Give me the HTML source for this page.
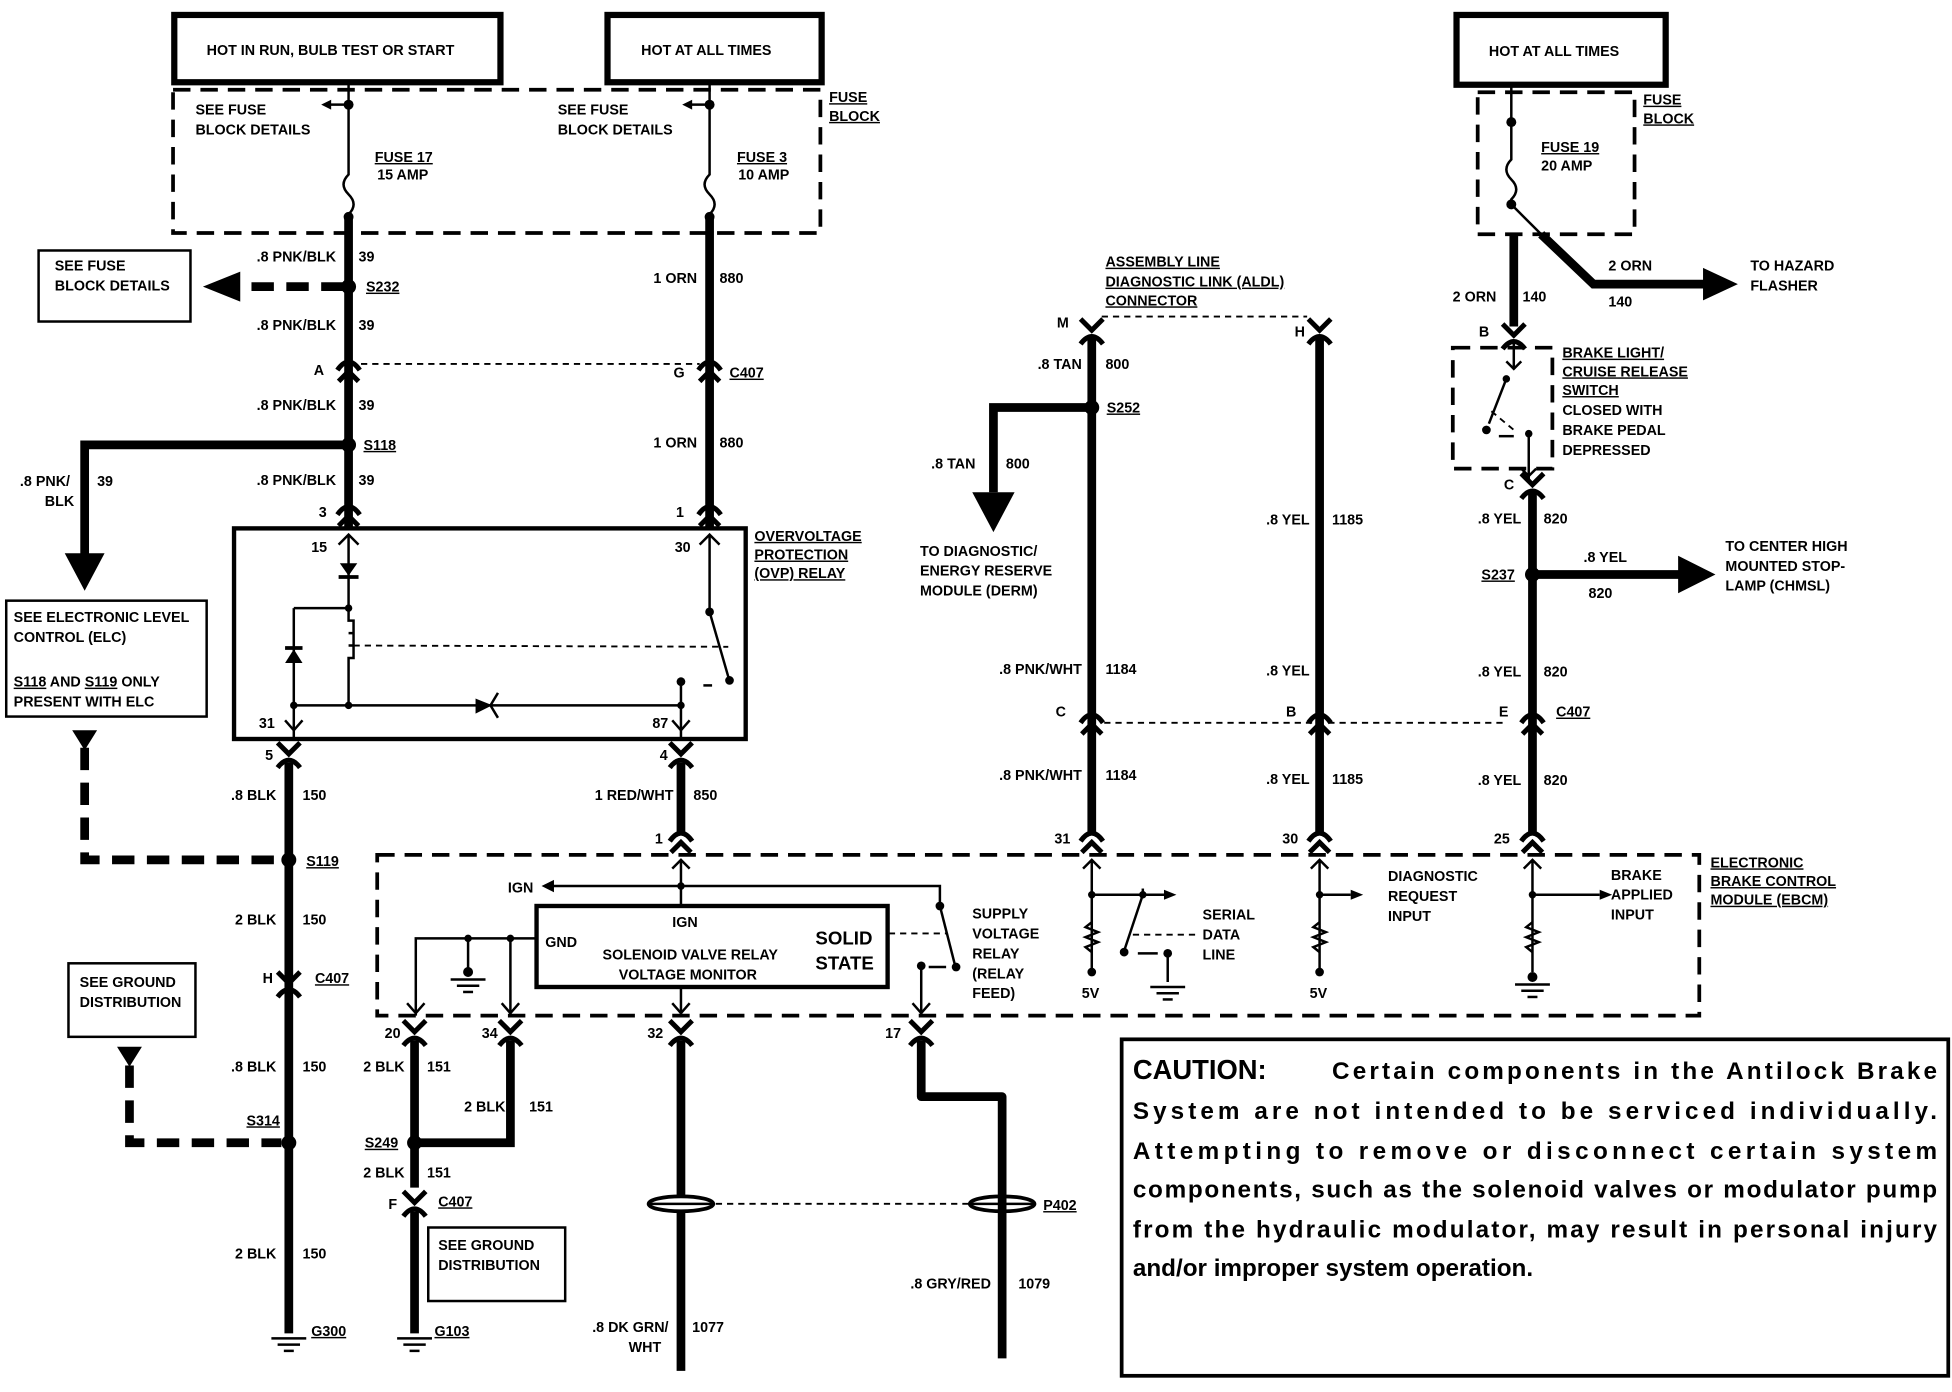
<!DOCTYPE html>
<html><head><meta charset="utf-8"><style>
html,body{margin:0;padding:0;background:#fff;}
svg{display:block}
text{font-family:"Liberation Sans",sans-serif;font-weight:bold;font-size:11.5px;fill:#000}
.u{text-decoration:underline}
.w{stroke:#000;stroke-width:7;fill:none}
.t{stroke:#000;stroke-width:2;fill:none}
.d{stroke:#000;stroke-width:1.5;fill:none;stroke-dasharray:5 4}
.db{stroke:#000;stroke-width:3;fill:none;stroke-dasharray:14 8}
.dw{stroke:#000;stroke-width:7;fill:none;stroke-dasharray:18 10}
</style></head><body>
<svg width="1952" height="1392" viewBox="0 0 1568 1117" preserveAspectRatio="none" xmlns="http://www.w3.org/2000/svg">
<defs>
<g id="cn"><path d="M-9,5 Q0,-8 9,5" stroke="#000" stroke-width="4" fill="none"/><path d="M-8,14 L0,6 L8,14" stroke="#000" stroke-width="4" fill="none"/></g>
<g id="cb"><path d="M-9,-6 L0,3 L9,-6" stroke="#000" stroke-width="4" fill="none"/><path d="M-9,14 Q0,2 9,14" stroke="#000" stroke-width="4" fill="none"/></g>
<g id="gnd"><line x1="-14" y1="0" x2="14" y2="0" stroke="#000" stroke-width="2"/><line x1="-9" y1="5" x2="9" y2="5" stroke="#000" stroke-width="2"/><line x1="-4" y1="10" x2="4" y2="10" stroke="#000" stroke-width="2"/></g>
</defs>

<!-- header boxes -->
<rect x="140" y="12" width="262" height="54" fill="#fff" stroke="#000" stroke-width="5"/>
<text x="166" y="44">HOT IN RUN, BULB TEST OR START</text>
<rect x="488" y="12" width="172" height="54" fill="#fff" stroke="#000" stroke-width="5"/>
<text x="515" y="44">HOT AT ALL TIMES</text>
<rect x="1170" y="12" width="168" height="56" fill="#fff" stroke="#000" stroke-width="5"/>
<text x="1196" y="45">HOT AT ALL TIMES</text>

<!-- fuse blocks -->
<rect x="139" y="72" width="520" height="115" class="db"/>
<text x="666" y="82" class="u">FUSE</text><text x="666" y="97" class="u">BLOCK</text>
<rect x="1187" y="74" width="126" height="114" class="db"/>
<text x="1320" y="84" class="u">FUSE</text><text x="1320" y="99" class="u">BLOCK</text>

<!-- wire 1 (x=280) -->
<line x1="280" y1="66" x2="280" y2="84" class="t"/>
<circle cx="280" cy="84" r="4"/>
<line x1="280" y1="84" x2="262" y2="84" class="t"/><path d="M258,84 l8,-4 v8z"/>
<text x="157" y="92">SEE FUSE</text><text x="157" y="108">BLOCK DETAILS</text>
<path d="M280,84 V140 q-8,8 0,16 q8,8 0,16 V176" class="t"/>
<circle cx="280" cy="174" r="4"/>
<text x="301" y="130" class="u">FUSE 17</text><text x="303" y="144">15 AMP</text>
<line x1="280" y1="174" x2="280" y2="424" class="w"/>
<text x="270" y="210" text-anchor="end">.8 PNK/BLK</text><text x="288" y="210">39</text>
<circle cx="280" cy="230" r="6"/>
<text x="294" y="234" class="u">S232</text>
<line x1="276" y1="230" x2="190" y2="230" class="dw"/>
<path d="M163,230 l30,-12 v24z"/>
<rect x="31" y="201" width="122" height="57" fill="#fff" stroke="#000" stroke-width="2"/>
<text x="44" y="217">SEE FUSE</text><text x="44" y="233">BLOCK DETAILS</text>
<text x="270" y="265" text-anchor="end">.8 PNK/BLK</text><text x="288" y="265">39</text>
<use href="#cn" x="280" y="292"/><text x="252" y="301">A</text>
<line x1="290" y1="292" x2="562" y2="292" class="d"/>
<text x="270" y="329" text-anchor="end">.8 PNK/BLK</text><text x="288" y="329">39</text>
<circle cx="280" cy="357" r="6"/>
<text x="292" y="361" class="u">S118</text>
<path d="M276,357 H68 V445" class="w"/>
<path d="M52,444 h32 l-16,30z"/>
<text x="16" y="390">.8 PNK/</text><text x="36" y="406">BLK</text><text x="78" y="390">39</text>
<text x="270" y="389" text-anchor="end">.8 PNK/BLK</text><text x="288" y="389">39</text>
<use href="#cn" x="280" y="408"/><text x="256" y="415">3</text>

<!-- wire 2 (x=570) -->
<line x1="570" y1="66" x2="570" y2="84" class="t"/>
<circle cx="570" cy="84" r="4"/>
<line x1="570" y1="84" x2="552" y2="84" class="t"/><path d="M548,84 l8,-4 v8z"/>
<text x="448" y="92">SEE FUSE</text><text x="448" y="108">BLOCK DETAILS</text>
<path d="M570,84 V140 q-8,8 0,16 q8,8 0,16 V176" class="t"/>
<circle cx="570" cy="174" r="4"/>
<text x="592" y="130" class="u">FUSE 3</text><text x="593" y="144">10 AMP</text>
<line x1="570" y1="174" x2="570" y2="424" class="w"/>
<text x="560" y="227" text-anchor="end">1 ORN</text><text x="578" y="227">880</text>
<use href="#cn" x="570" y="292"/><text x="541" y="303">G</text><text x="586" y="303" class="u">C407</text>
<text x="560" y="359" text-anchor="end">1 ORN</text><text x="578" y="359">880</text>
<use href="#cn" x="570" y="408"/><text x="543" y="415">1</text>

<!-- OVP relay -->
<rect x="188" y="424" width="411" height="169" fill="#fff" stroke="#000" stroke-width="3.5"/>
<text x="606" y="434" class="u">OVERVOLTAGE</text><text x="606" y="449" class="u">PROTECTION</text><text x="606" y="464" class="u">(OVP) RELAY</text>
<line x1="280" y1="430" x2="280" y2="488" class="t"/>
<line x1="280" y1="538" x2="280" y2="566" class="t"/>
<path d="M272,437 l8,-8 l8,8" class="t"/>
<text x="250" y="443">15</text>
<path d="M273,452 h14 l-7,10z"/><line x1="272" y1="463" x2="288" y2="463" stroke="#000" stroke-width="3"/>
<circle cx="280" cy="488" r="3"/>
<path d="M236,488 H280 V498 h4 v10 h-4 m4,0 v10 h-4 m4,0 v10 h-4 V538 M236,488 V593" class="t"/>
<path d="M229,532 h14 l-7,-11 z" /><line x1="229" y1="520" x2="243" y2="520" stroke="#000" stroke-width="3"/>
<line x1="284" y1="518" x2="585" y2="519" class="d"/>
<line x1="236" y1="566" x2="547" y2="566" class="t"/>
<circle cx="236" cy="566" r="3"/><circle cx="280" cy="566" r="3"/><circle cx="547" cy="566" r="3"/>
<path d="M383,562 l10,4 l-10,5z" stroke="#000" stroke-width="2"/><path d="M400,556 l-6,10 l6,10" class="t"/>
<path d="M229,578 l7,8 l7,-8" class="t"/><text x="208" y="584">31</text>
<line x1="547" y1="547" x2="547" y2="593" class="t"/><circle cx="547" cy="547" r="3.5"/>
<path d="M540,578 l7,8 l7,-8" class="t"/><text x="524" y="584">87</text>
<line x1="565" y1="550" x2="572" y2="550" class="t"/>
<line x1="570" y1="430" x2="570" y2="490" class="t"/><path d="M562,437 l8,-8 l8,8" class="t"/><text x="542" y="443">30</text>
<circle cx="570" cy="491" r="3.5"/><line x1="570" y1="491" x2="585" y2="543" class="t"/><circle cx="586" cy="546" r="3.5"/>

<!-- left ground wire x=232 -->
<use href="#cb" x="232" y="602"/><text x="213" y="610">5</text>
<line x1="232" y1="612" x2="232" y2="1070" class="w"/>
<text x="222" y="642" text-anchor="end">.8 BLK</text><text x="243" y="642">150</text>
<rect x="5" y="482" width="161" height="93" fill="#fff" stroke="#000" stroke-width="2"/>
<text x="11" y="499">SEE ELECTRONIC LEVEL</text><text x="11" y="515">CONTROL (ELC)</text>
<text x="11" y="551"><tspan class="u">S118</tspan> AND <tspan class="u">S119</tspan> ONLY</text><text x="11" y="567">PRESENT WITH ELC</text>
<path d="M58,586 h20 l-10,16z"/>
<path d="M68,600 V690 H226" class="dw"/>
<circle cx="232" cy="690" r="6"/><text x="246" y="695" class="u">S119</text>
<text x="222" y="742" text-anchor="end">2 BLK</text><text x="243" y="742">150</text>
<use href="#cb" x="232" y="786"/><text x="211" y="789">H</text><text x="253" y="789" class="u">C407</text>
<rect x="55" y="773" width="102" height="59" fill="#fff" stroke="#000" stroke-width="2"/>
<text x="64" y="792">SEE GROUND</text><text x="64" y="808">DISTRIBUTION</text>
<path d="M94,840 h20 l-10,16z"/>
<path d="M104,855 V917 H226" class="dw"/>
<text x="222" y="860" text-anchor="end">.8 BLK</text><text x="243" y="860">150</text>
<circle cx="232" cy="917" r="6"/><text x="198" y="903" class="u">S314</text>
<text x="222" y="1010" text-anchor="end">2 BLK</text><text x="243" y="1010">150</text>
<use href="#gnd" x="232" y="1074"/><text x="250" y="1072" class="u">G300</text>

<!-- relay output -->
<use href="#cb" x="547" y="602"/><text x="530" y="610">4</text>
<line x1="547" y1="612" x2="547" y2="668" class="w"/>
<text x="541" y="642" text-anchor="end">1 RED/WHT</text><text x="557" y="642">850</text>
<use href="#cn" x="547" y="670"/><text x="526" y="677">1</text>

<!-- EBCM -->
<rect x="303" y="686" width="1062" height="129" class="db"/>
<text x="1374" y="696" class="u">ELECTRONIC</text><text x="1374" y="711" class="u">BRAKE CONTROL</text><text x="1374" y="726" class="u">MODULE (EBCM)</text>
<line x1="547" y1="690" x2="547" y2="727" class="t"/><path d="M540,697 l7,-7 l7,7" class="t"/>
<circle cx="547" cy="711" r="3"/>
<path d="M547,711 H443" class="t"/><path d="M435,711 l10,-5 v10z"/><text x="408" y="716">IGN</text>
<path d="M547,711 H755 V726" class="t"/><circle cx="755" cy="727" r="3.5"/>
<line x1="755" y1="727" x2="767" y2="774" class="t"/><circle cx="768" cy="776" r="3.5"/>
<line x1="714" y1="749" x2="760" y2="749" class="d"/>
<line x1="740" y1="775" x2="740" y2="815" class="t"/><circle cx="740" cy="775" r="3.5"/><line x1="746" y1="776" x2="760" y2="776" class="t"/>
<path d="M733,805 l7,8 l7,-8" class="t"/>
<rect x="431" y="727" width="282" height="65" fill="#fff" stroke="#000" stroke-width="3.5"/>
<text x="540" y="744">IGN</text><text x="438" y="760">GND</text>
<text x="484" y="770">SOLENOID VALVE RELAY</text><text x="497" y="786">VOLTAGE MONITOR</text>
<text x="655" y="758" style="font-size:15px">SOLID</text><text x="655" y="778" style="font-size:15px">STATE</text>
<text x="781" y="737">SUPPLY</text><text x="781" y="753">VOLTAGE</text><text x="781" y="769">RELAY</text><text x="781" y="785">(RELAY</text><text x="781" y="801">FEED)</text>
<path d="M431,753 H334 V815 M376,753 V780 M410,753 V815" class="t"/>
<circle cx="376" cy="753" r="3"/><circle cx="410" cy="753" r="3"/><circle cx="376" cy="780" r="4"/>
<use href="#gnd" x="376" y="786"/>
<path d="M327,805 l7,8 l7,-8 M403,805 l7,8 l7,-8 M540,805 l7,8 l7,-8" class="t"/>
<line x1="547" y1="792" x2="547" y2="815" class="t"/>

<!-- bottom connectors -->
<use href="#cb" x="333" y="825"/><text x="309" y="833">20</text>
<use href="#cb" x="410" y="825"/><text x="387" y="833">34</text>
<use href="#cb" x="547" y="825"/><text x="520" y="833">32</text>
<use href="#cb" x="740" y="825"/><text x="711" y="833">17</text>
<line x1="333" y1="835" x2="333" y2="953" class="w"/>
<path d="M410,835 V917 H333" class="w"/>
<text x="325" y="860" text-anchor="end">2 BLK</text><text x="343" y="860">151</text>
<text x="406" y="892" text-anchor="end">2 BLK</text><text x="425" y="892">151</text>
<circle cx="333" cy="917" r="6"/><text x="293" y="921" class="u">S249</text>
<text x="325" y="945" text-anchor="end">2 BLK</text><text x="343" y="945">151</text>
<use href="#cb" x="333" y="962"/><text x="312" y="970">F</text><text x="352" y="968" class="u">C407</text>
<line x1="333" y1="972" x2="333" y2="1070" class="w"/>
<rect x="344" y="985" width="110" height="59" fill="#fff" stroke="#000" stroke-width="2"/>
<text x="352" y="1003">SEE GROUND</text><text x="352" y="1019">DISTRIBUTION</text>
<use href="#gnd" x="333" y="1074"/><text x="349" y="1072" class="u">G103</text>
<line x1="547" y1="835" x2="547" y2="1100" class="w"/>
<ellipse cx="547" cy="966" rx="26" ry="6" fill="#fff" stroke="#000" stroke-width="3"/>
<line x1="520" y1="966" x2="574" y2="966" stroke="#000" stroke-width="2"/>
<line x1="575" y1="966" x2="782" y2="966" class="d"/>
<path d="M740,835 V880 H805 V1090" class="w" stroke-linejoin="round"/>
<ellipse cx="805" cy="966" rx="26" ry="6" fill="#fff" stroke="#000" stroke-width="3"/>
<line x1="779" y1="966" x2="831" y2="966" stroke="#000" stroke-width="2"/>
<line x1="805" y1="960" x2="805" y2="972" class="w"/>
<text x="838" y="971" class="u">P402</text>
<text x="537" y="1069" text-anchor="end">.8 DK GRN/</text><text x="505" y="1085">WHT</text><text x="556" y="1069">1077</text>
<text x="796" y="1034" text-anchor="end">.8 GRY/RED</text><text x="818" y="1034">1079</text>

<!-- ALDL wires -->
<text x="888" y="214" class="u">ASSEMBLY LINE</text><text x="888" y="230" class="u">DIAGNOSTIC LINK (ALDL)</text><text x="888" y="245" class="u">CONNECTOR</text>
<use href="#cb" x="877" y="262"/><text x="849" y="263">M</text>
<use href="#cb" x="1060" y="262"/><text x="1040" y="270">H</text>
<line x1="885" y1="254" x2="1050" y2="254" class="d"/>
<line x1="877" y1="272" x2="877" y2="670" class="w"/>
<line x1="1060" y1="272" x2="1060" y2="670" class="w"/>
<text x="869" y="296" text-anchor="end">.8 TAN</text><text x="888" y="296">800</text>
<circle cx="877" cy="327" r="6"/><text x="889" y="331" class="u">S252</text>
<path d="M873,327 H798 V395" class="w"/>
<path d="M781,395 h34 l-17,32z"/>
<text x="748" y="376">.8 TAN</text><text x="808" y="376">800</text>
<text x="739" y="446">TO DIAGNOSTIC/</text><text x="739" y="462">ENERGY RESERVE</text><text x="739" y="478">MODULE (DERM)</text>
<text x="1052" y="421" text-anchor="end">.8 YEL</text><text x="1070" y="421">1185</text>
<text x="869" y="541" text-anchor="end">.8 PNK/WHT</text><text x="888" y="541">1184</text>
<text x="1052" y="542" text-anchor="end">.8 YEL</text>
<use href="#cn" x="877" y="575"/><text x="848" y="575">C</text>
<use href="#cn" x="1060" y="575"/><text x="1033" y="575">B</text>
<line x1="887" y1="580" x2="1208" y2="580" class="d"/>
<text x="869" y="626" text-anchor="end">.8 PNK/WHT</text><text x="888" y="626">1184</text>
<text x="1052" y="629" text-anchor="end">.8 YEL</text><text x="1070" y="629">1185</text>
<use href="#cn" x="877" y="670"/><text x="847" y="677">31</text>
<use href="#cn" x="1060" y="670"/><text x="1030" y="677">30</text>
<use href="#cn" x="1231" y="670"/><text x="1200" y="677">25</text>

<!-- EBCM inputs -->
<g class="t">
<path d="M870,697 l7,-7 l7,7 M877,690 V780 M877,718 H935"/>
<path d="M877,740 l-5,4 l10,4 l-10,4 l10,4 l-10,4 l5,4"/>
<path d="M918,718 v-5"/>
<path d="M1053,697 l7,-7 l7,7 M1060,690 V780 M1060,718 H1085"/>
<path d="M1060,740 l-5,4 l10,4 l-10,4 l10,4 l-10,4 l5,4"/>
<path d="M1224,697 l7,-7 l7,7 M1231,690 V780 M1231,718 H1285"/>
<path d="M1231,740 l-5,4 l10,4 l-10,4 l10,4 l-10,4 l5,4"/>
</g>
<path d="M935,714 l10,4 l-10,4z M1085,714 l10,4 l-10,4z M1285,714 l10,4 l-10,4z"/>
<circle cx="877" cy="718" r="3"/><circle cx="1060" cy="718" r="3"/><circle cx="1231" cy="718" r="3"/>
<circle cx="877" cy="780" r="3.5"/><circle cx="1060" cy="780" r="3.5"/><circle cx="1231" cy="784" r="4"/>
<use href="#gnd" x="1231" y="790"/>
<circle cx="918" cy="718" r="3"/><line x1="918" y1="718" x2="903" y2="763" class="t"/><circle cx="903" cy="764" r="3.5"/>
<line x1="910" y1="750" x2="960" y2="750" class="d"/><line x1="914" y1="765" x2="930" y2="765" class="t"/>
<circle cx="938" cy="765" r="3.5"/><line x1="938" y1="765" x2="938" y2="788" class="t"/><use href="#gnd" x="938" y="792"/>
<text x="869" y="801">5V</text><text x="1052" y="801">5V</text>
<text x="966" y="738">SERIAL</text><text x="966" y="754">DATA</text><text x="966" y="770">LINE</text>
<text x="1115" y="707">DIAGNOSTIC</text><text x="1115" y="723">REQUEST</text><text x="1115" y="739">INPUT</text>
<text x="1294" y="706">BRAKE</text><text x="1294" y="722">APPLIED</text><text x="1294" y="738">INPUT</text>

<!-- right wire -->
<line x1="1214" y1="68" x2="1214" y2="98" class="t"/><circle cx="1214" cy="98" r="4"/>
<path d="M1214,98 V128 q-8,8 0,16 q8,8 0,16 V164" class="t"/><circle cx="1214" cy="164" r="4"/>
<text x="1238" y="122" class="u">FUSE 19</text><text x="1238" y="137">20 AMP</text>
<line x1="1216" y1="188" x2="1216" y2="262" class="w"/>
<line x1="1214" y1="164" x2="1240" y2="190" class="t"/>
<path d="M1238,188 L1280,228 H1370" class="w"/>
<path d="M1368,215 l28,13 l-28,13z"/>
<text x="1292" y="217">2 ORN</text><text x="1292" y="246">140</text>
<text x="1406" y="217">TO HAZARD</text><text x="1406" y="233">FLASHER</text>
<text x="1202" y="242" text-anchor="end">2 ORN</text><text x="1223" y="242">140</text>
<use href="#cb" x="1216" y="266"/><text x="1188" y="270">B</text>
<rect x="1167" y="279" width="80" height="97" class="db"/>
<line x1="1216" y1="276" x2="1216" y2="296" class="t"/><path d="M1210,290 l6,6 l6,-6" class="t"/>
<circle cx="1210" cy="304" r="3"/><line x1="1210" y1="304" x2="1196" y2="340" class="t"/><circle cx="1194" cy="345" r="3.5"/>
<line x1="1198" y1="330" x2="1216" y2="345" class="d"/><line x1="1204" y1="350" x2="1216" y2="350" class="t"/>
<circle cx="1228" cy="348" r="3"/><line x1="1228" y1="348" x2="1228" y2="385" class="t"/><path d="M1222,376 l6,6 l6,-6" class="t"/>
<text x="1255" y="287" class="u">BRAKE LIGHT/</text><text x="1255" y="302" class="u">CRUISE RELEASE</text><text x="1255" y="317" class="u">SWITCH</text>
<text x="1255" y="333">CLOSED WITH</text><text x="1255" y="349">BRAKE PEDAL</text><text x="1255" y="365">DEPRESSED</text>
<use href="#cb" x="1231" y="386"/><text x="1208" y="393">C</text>
<line x1="1231" y1="396" x2="1231" y2="670" class="w"/>
<text x="1222" y="420" text-anchor="end">.8 YEL</text><text x="1240" y="420">820</text>
<circle cx="1231" cy="461" r="6"/><text x="1190" y="465" class="u">S237</text>
<line x1="1235" y1="461" x2="1352" y2="461" class="w"/>
<path d="M1348,446 l30,15 l-30,15z"/>
<text x="1272" y="451">.8 YEL</text><text x="1276" y="480">820</text>
<text x="1386" y="442">TO CENTER HIGH</text><text x="1386" y="458">MOUNTED STOP-</text><text x="1386" y="474">LAMP (CHMSL)</text>
<text x="1222" y="543" text-anchor="end">.8 YEL</text><text x="1240" y="543">820</text>
<use href="#cn" x="1231" y="575"/><text x="1204" y="575">E</text><text x="1250" y="575" class="u">C407</text>
<text x="1222" y="630" text-anchor="end">.8 YEL</text><text x="1240" y="630">820</text>

<!-- caution -->
<rect x="901" y="834" width="664" height="270" fill="#fff" stroke="#000" stroke-width="3"/>
<text x="910" y="866" style="font-size:22px">CAUTION:</text>
<text x="1070" y="866" style="font-size:19.5px" textLength="486">Certain components in the Antilock Brake</text>
<text x="910" y="898" style="font-size:19.5px" textLength="646">System are not intended to be serviced individually.</text>
<text x="910" y="930" style="font-size:19.5px" textLength="646">Attempting to remove or disconnect certain system</text>
<text x="910" y="961" style="font-size:19.5px" textLength="646">components, such as the solenoid valves or modulator pump</text>
<text x="910" y="993" style="font-size:19.5px" textLength="646">from the hydraulic modulator, may result in personal injury</text>
<text x="910" y="1024" style="font-size:19.5px">and/or improper system operation.</text>
</svg>
</body></html>
